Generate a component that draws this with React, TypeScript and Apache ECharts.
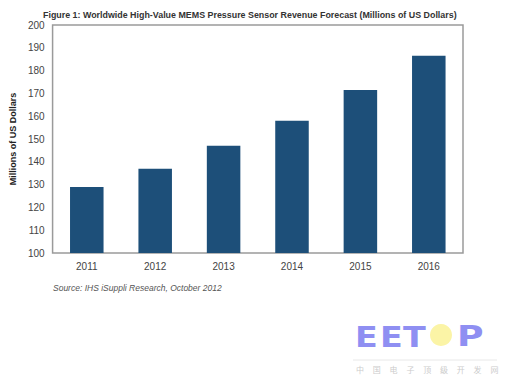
import React, { useEffect, useRef } from "react";
import * as echarts from "echarts";

const categories = ["2011", "2012", "2013", "2014", "2015", "2016"];
const revenue = [129, 137, 147, 158, 171.5, 186.5];
const yMin = 100;
const yMax = 200;
const yInterval = 10;
const titleText =
  "Figure 1: Worldwide High-Value MEMS Pressure Sensor Revenue Forecast (Millions of US Dollars)";
const yAxisName = "Millions of US Dollars";
const sourceText = "Source: IHS iSuppli Research, October 2012";
const logoLetters = ["E", "E", "T", "P"];
const logoSub = ["中", "国", "电", "子", "顶", "级", "开", "发", "网"];

export default function App() {
  const ref = useRef<HTMLDivElement>(null);
  useEffect(() => {
    if (!ref.current) return;
    const chart = echarts.init(ref.current, null, { renderer: "svg" });
    const font = "'Liberation Sans', Arial, sans-serif";
    const letterX = [355, 380, 403, 457];
    chart.setOption({
      animation: false,
      backgroundColor: "#ffffff",
      title: {
        text: titleText,
        left: 38,
        top: 5,
        textStyle: {
          fontFamily: font,
          fontSize: 8.9,
          fontWeight: "bold",
          color: "#333333",
        },
      },
      grid: {
        left: 36,
        right: 49,
        top: 25,
        bottom: 131,
        show: true,
        borderColor: "#9a9a9a",
        borderWidth: 1.5,
        backgroundColor: "transparent",
      },
      xAxis: {
        type: "category",
        data: categories,
        axisLine: { show: false },
        axisTick: { show: false },
        axisLabel: {
          fontFamily: font,
          fontSize: 10,
          color: "#444444",
          margin: 8,
        },
      },
      yAxis: {
        type: "value",
        min: yMin,
        max: yMax,
        interval: yInterval,
        name: yAxisName,
        nameLocation: "middle",
        nameRotate: 90,
        nameGap: 28,
        nameTextStyle: {
          fontFamily: font,
          fontSize: 9,
          fontWeight: "bold",
          color: "#222222",
        },
        axisLine: { show: false },
        axisTick: { show: false },
        splitLine: { show: false },
        axisLabel: {
          fontFamily: font,
          fontSize: 10,
          color: "#444444",
          margin: 8,
        },
      },
      series: [
        {
          type: "bar",
          data: revenue,
          barWidth: "49%",
          itemStyle: { color: "#1d4f79" },
        },
      ],
      graphic: [
        {
          type: "text",
          left: 53,
          top: 283,
          style: {
            text: sourceText,
            fontFamily: font,
            fontSize: 8.5,
            fontStyle: "italic",
            fill: "#555555",
          },
        },
        ...logoLetters.map((l, i) => ({
          type: "text",
          x: letterX[i],
          y: 322,
          scaleX: i === 3 ? 1.25 : 1.15,
          style: {
            text: l,
            fontFamily: "'DejaVu Sans', sans-serif",
            fontSize: 29,
            fontWeight: "bold",
            fill: "#8f8ff2",
          },
        })),
        {
          type: "circle",
          shape: { cx: 441, cy: 335, r: 11 },
          style: { fill: "#fbf4a6" },
        },
        {
          type: "line",
          shape: { x1: 353, y1: 360, x2: 497, y2: 360 },
          style: { stroke: "#e8e8e8", lineWidth: 1 },
        },
        ...logoSub.map((c, i) => ({
          type: "text",
          x: 356 + i * 16.8,
          y: 365,
          style: {
            text: c,
            fontFamily: "'Noto Sans CJK SC', sans-serif",
            fontSize: 8,
            fill: "#cccccc",
          },
        })),
      ],
    });
    return () => chart.dispose();
  }, []);
  return (
    <div
      ref={ref}
      style={{ position: "absolute", left: 0, top: 0, width: 512, height: 384 }}
    />
  );
}
